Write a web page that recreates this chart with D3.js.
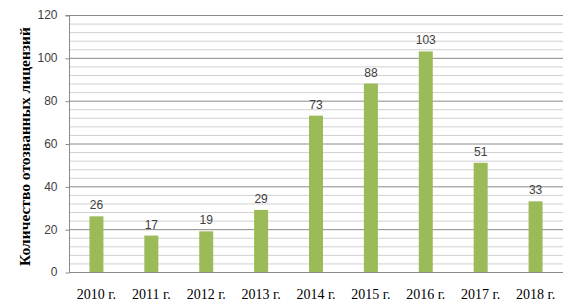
<!DOCTYPE html>
<html><head><meta charset="utf-8">
<script src="https://cdn.jsdelivr.net/npm/d3@7"></script>
<style>body{margin:0;background:#fff}svg{display:block}</style>
</head><body>
<svg id="c" width="578" height="306"></svg>
<script>
const categories = ["2010 г.","2011 г.","2012 г.","2013 г.","2014 г.","2015 г.","2016 г.","2017 г.","2018 г."];
const values = [26,17,19,29,73,88,103,51,33];
const yTicks = [0,20,40,60,80,100,120];
const yTitle = "Количество отозванных лицензий";

const svg = d3.select("#c");
const m = {l:69, r:563, t:15, b:272};
const x = d3.scaleBand().domain(categories).range([m.l, m.r]).paddingInner(0.745).paddingOuter(0.3725);
const y = d3.scaleLinear().domain([0,120]).range([m.b, m.t]);

// minor grid
const minor = d3.range(4, 121, 4).filter(v => v % 20 !== 0);
svg.append("g").selectAll("line").data(minor).join("line")
  .attr("x1", m.l).attr("x2", m.r).attr("y1", d=>y(d)+0.5).attr("y2", d=>y(d)+0.5)
  .attr("stroke", "#d0d0d0").attr("stroke-width", 1);
// major grid
svg.append("g").selectAll("line").data(yTicks.filter(d=>d>0)).join("line")
  .attr("x1", m.l).attr("x2", m.r).attr("y1", d=>y(d)+0.5).attr("y2", d=>y(d)+0.5)
  .attr("stroke", "#8a8a8a").attr("stroke-width", 1);

// y axis
const yAxis = svg.append("g").attr("transform", `translate(${m.l+0.5},0)`)
  .call(d3.axisLeft(y).tickValues(yTicks).tickSize(4).tickPadding(8));
yAxis.select(".domain").attr("stroke", "#8a8a8a").attr("d", `M-4,${m.t+0.5}H0V${m.b+0.5}`);
yAxis.selectAll(".tick line").attr("stroke", "#8a8a8a").attr("transform","translate(0,0.5)");
yAxis.selectAll(".tick text").attr("font-family", "'Liberation Sans', Arial, sans-serif")
  .attr("font-size", 12).attr("fill", "#404040");

// x axis
const xAxis = svg.append("g").attr("transform", `translate(0,${m.b+0.5})`)
  .call(d3.axisBottom(x).tickSize(0).tickPadding(17));
xAxis.select(".domain").attr("stroke", "#8a8a8a").attr("d", `M${m.l},0H${m.r}`);
xAxis.selectAll(".tick text").attr("font-family", "'Liberation Serif', 'Times New Roman', serif")
  .attr("font-size", 14).attr("fill", "#000");

// bars
svg.append("g").selectAll("rect").data(values).join("rect")
  .attr("x", (d,i)=>x(categories[i])).attr("width", x.bandwidth())
  .attr("y", d=>y(d)).attr("height", d=>y(0)-y(d))
  .attr("fill", "#9bbb59");

// value labels
svg.append("g").selectAll("text").data(values).join("text")
  .attr("x", (d,i)=>x(categories[i]) + x.bandwidth()/2)
  .attr("y", d=>y(d)-7)
  .attr("text-anchor", "middle")
  .attr("font-family", "'Liberation Sans', Arial, sans-serif")
  .attr("font-size", 12).attr("fill", "#404040")
  .text(d=>d);

// y title
svg.append("text")
  .attr("transform", `translate(30,${(m.t+m.b)/2+3}) rotate(-90)`)
  .attr("text-anchor", "middle")
  .attr("font-family", "'Liberation Serif', 'Times New Roman', serif")
  .attr("font-weight", "bold").attr("font-size", 15.5).attr("fill", "#000")
  .text(yTitle);
</script>
</body></html>
